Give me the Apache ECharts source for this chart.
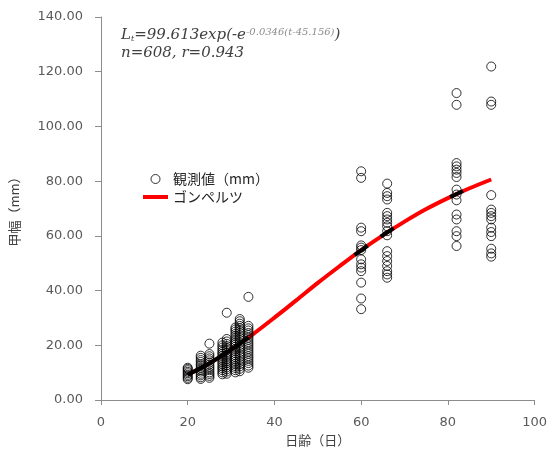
<!DOCTYPE html>
<html><head><meta charset="utf-8">
<script src="https://cdn.jsdelivr.net/npm/echarts@6/dist/echarts.min.js"></script>
<style>html,body{margin:0;padding:0;background:#fff}#c{width:550px;height:455px}</style>
</head><body><div id="c"></div>
<script>
// axis ranges / ticks
const xMin = 0, xMax = 100, xStep = 20;
const yMin = 0, yMax = 140, yStep = 20;

// observed carapace width (mm) by age (days)
const obsAges = [20, 23, 25, 28, 29, 31, 32, 34, 60, 66, 82, 90];
const w20 = [7.6, 8.1, 8.7, 9.2, 9.8, 10.3, 10.9, 11.4, 11.8];
const w23 = [7.7, 8.3, 9.0, 9.6, 10.4, 11.0, 11.7, 12.5, 13.1, 13.9, 14.6, 15.4, 16.2];
const w25 = [8.1, 8.8, 9.5, 10.1, 10.9, 11.6, 12.2, 13.0, 13.7, 14.5, 15.2, 16.0, 16.8, 20.6];
const w28 = [9.4, 10.1, 10.9, 11.6, 12.3, 13.1, 13.8, 14.6, 15.3, 16.1, 16.9, 17.6, 18.4, 19.2, 20.0, 21.0];
const w29 = [9.6, 10.4, 11.2, 11.9, 12.7, 13.5, 14.2, 15.0, 15.8, 16.5, 17.3, 18.1, 18.9, 19.7, 20.5, 21.4, 22.3, 31.9];
const w31 = [10.1, 10.9, 11.7, 12.4, 13.2, 14.0, 14.8, 15.6, 16.3, 17.1, 17.9, 18.7, 19.5, 20.3, 21.0, 21.8, 22.6, 23.4, 24.2, 25.0, 25.8, 26.5];
const w32 = [10.5, 11.4, 12.3, 13.1, 14.0, 14.9, 15.8, 16.6, 17.5, 18.4, 19.3, 20.1, 21.0, 21.9, 22.7, 23.6, 24.5, 25.3, 26.2, 27.1, 27.9, 28.8, 29.6];
const w34 = [11.8, 12.6, 13.5, 14.3, 15.2, 16.0, 16.9, 17.7, 18.6, 19.4, 20.3, 21.1, 22.0, 22.8, 23.7, 24.5, 25.4, 26.2, 27.1, 37.7];
const w60 = [83.6, 81.2, 63.0, 61.7, 56.5, 55.7, 54.8, 51.4, 49.6, 48.4, 47.1, 42.9, 37.1, 33.2];
const w66 = [79.1, 75.7, 74.5, 73.3, 68.4, 67.2, 66.0, 64.8, 63.5, 61.7, 60.2, 54.4, 52.6, 50.8, 49.0, 47.1, 45.9, 44.7];
const w82 = [112.2, 107.9, 86.6, 85.4, 84.2, 83.0, 81.5, 76.9, 75.1, 73.0, 67.8, 66.0, 61.7, 59.9, 56.3];
const w90 = [121.9, 109.1, 107.9, 74.9, 69.6, 68.4, 67.2, 66.0, 63.0, 61.4, 59.9, 55.3, 53.6, 52.4];
const obsWidths = [w20, w23, w25, w28, w29, w31, w32, w34, w60, w66, w82, w90];

// Gompertz curve read along its path
const curveAges = [20, 25, 30, 35, 40, 45, 50, 55, 60, 65, 70, 75, 80, 85, 90];
const curveWidths = [9.2, 13.4, 18.4, 24.0, 30.1, 36.4, 42.8, 48.9, 54.8, 60.2, 65.2, 69.8, 73.8, 77.4, 80.6];

// darker (black) stretches of the curve where observations sit
const darkAges   = [20, 25, 30, 34, null, 58.5, 61.5, null, 64.5, 67.5, null, 80.5, 83.5];
const darkWidths = [9.2, 13.4, 18.4, 22.9, null, 53.0, 56.4, null, 59.7, 62.8, null, 74.2, 76.4];

const obsName = '観測値（mm）';
const curveName = 'ゴンペルツ';
const xName = '日齢（日）';
const yName = '甲幅（mm）';

const obsData = [];
obsAges.forEach((a, i) => obsWidths[i].forEach(v => obsData.push([a, v])));
const curveData = curveAges.map((a, i) => [a, curveWidths[i]]);
const darkData = darkAges.map((a, i) => a === null ? ['-', '-'] : [a, darkWidths[i]]);

const sans = '"Noto Sans CJK JP", "DejaVu Sans", sans-serif';
const num = '"DejaVu Sans", sans-serif';
const serif = '"DejaVu Serif", serif';
const chart = echarts.init(document.getElementById('c'), null, {renderer: 'canvas'});
chart.setOption({
  animation: false,
  backgroundColor: '#fff',
  grid: {left: 99, right: 15, top: 17, bottom: 55, containLabel: false},
  xAxis: {
    type: 'value', min: xMin, max: xMax, interval: xStep,
    name: xName, nameLocation: 'middle', nameGap: 34,
    nameTextStyle: {color: '#404040', fontSize: 13, fontFamily: sans},
    axisLine: {show: true, lineStyle: {color: '#8c8c8c', width: 1}},
    axisTick: {show: true, length: 5, lineStyle: {color: '#8c8c8c'}},
    axisLabel: {color: '#595959', fontSize: 13, margin: 16, fontFamily: num},
    splitLine: {show: false}
  },
  yAxis: {
    type: 'value', min: yMin, max: yMax, interval: yStep,
    name: yName, nameLocation: 'middle', nameGap: 80, nameRotate: 90,
    nameTextStyle: {color: '#404040', fontSize: 13, fontFamily: sans},
    axisLine: {show: true, lineStyle: {color: '#8c8c8c', width: 1}},
    axisTick: {show: true, length: 6, lineStyle: {color: '#8c8c8c'}},
    axisLabel: {color: '#595959', fontSize: 13, margin: 18, fontFamily: num,
      formatter: v => v.toFixed(2)},
    splitLine: {show: false}
  },
  legend: {
    orient: 'vertical', left: 138, top: 167,
    itemWidth: 25, itemHeight: 9, itemGap: 4,
    textStyle: {color: '#262626', fontSize: 14, fontFamily: sans},
    data: [
      {name: obsName, icon: 'circle', itemStyle: {color: 'rgba(0,0,0,0)', borderColor: '#000', borderWidth: 1}},
      {name: curveName, icon: 'path://M0,0L25,0L25,4L0,4Z', itemStyle: {color: '#ff0000', borderWidth: 0}}
    ]
  },
  graphic: [
    {type: 'text', left: 121, top: 27, z: 10, style: {
      text: '{a|L}{s|t}{a|=99.613exp(-e}{p|-0.0346(t-45.156)}{a|)}',
      rich: {
        a: {fontFamily: serif, fontStyle: 'italic', fontSize: 15, fill: '#404040', lineHeight: 19, verticalAlign: 'bottom'},
        s: {fontFamily: serif, fontStyle: 'italic', fontSize: 8, fill: '#404040', lineHeight: 10, verticalAlign: 'bottom'},
        p: {fontFamily: serif, fontStyle: 'italic', fontSize: 10, fill: '#8c8c8c', lineHeight: 10, verticalAlign: 'bottom', padding: [0, 0, 6, 0]}
      }
    }},
    {type: 'text', left: 121, top: 46, z: 10, style: {
      text: 'n=608, r=0.943',
      font: 'italic 15px "DejaVu Serif", serif', fill: '#404040'
    }}
  ],
  series: [
    {name: curveName, type: 'line', data: curveData, smooth: 0.3, symbol: 'none', showSymbol: false,
     lineStyle: {color: '#ff0000', width: 4}, itemStyle: {color: '#ff0000'}, z: 2},
    {name: 'fitted', type: 'line', data: darkData, smooth: 0.3, symbol: 'none', connectNulls: false,
     lineStyle: {color: '#000', width: 4}, itemStyle: {color: '#000'}, z: 3},
    {name: obsName, type: 'scatter', data: obsData, symbol: 'circle', symbolSize: 9,
     itemStyle: {color: 'rgba(0,0,0,0)', borderColor: '#000', borderWidth: 1}, z: 4}
  ]
});
</script></body></html>
